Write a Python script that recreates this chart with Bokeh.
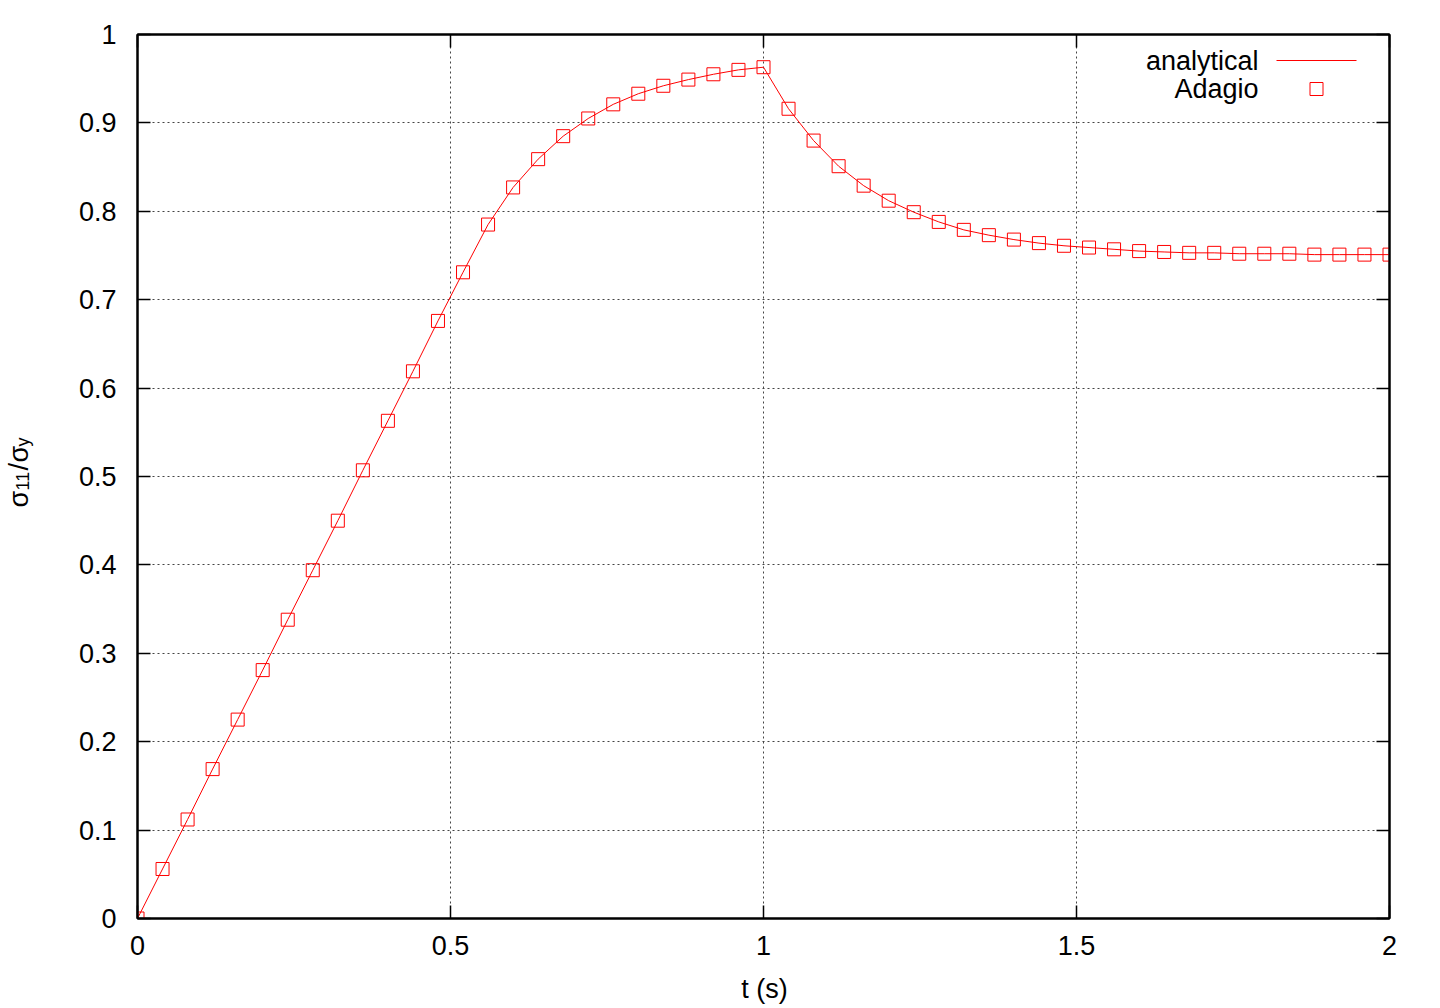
import numpy as np
from bokeh.plotting import figure
from bokeh.layouts import row, column
from bokeh.models import FixedTicker, LinearAxis, Range1d, Label, Arrow, BoxAnnotation
from bokeh.embed import file_html
from bokeh.resources import INLINE

# ---------------- data ----------------
t_adagio = [0.00, 0.04, 0.08, 0.12, 0.16, 0.20, 0.24, 0.28, 0.32, 0.36,
            0.40, 0.44, 0.48, 0.52, 0.56, 0.60, 0.64, 0.68, 0.72, 0.76,
            0.80, 0.84, 0.88, 0.92, 0.96, 1.00, 1.04, 1.08, 1.12, 1.16,
            1.20, 1.24, 1.28, 1.32, 1.36, 1.40, 1.44, 1.48, 1.52, 1.56,
            1.60, 1.64, 1.68, 1.72, 1.76, 1.80, 1.84, 1.88, 1.92, 1.96, 2.00]
s_adagio = [0.000, 0.056, 0.112, 0.169, 0.225, 0.281, 0.338, 0.394, 0.450, 0.507,
            0.563, 0.619, 0.676, 0.731, 0.785, 0.827, 0.859, 0.885, 0.905, 0.921,
            0.933, 0.942, 0.949, 0.955, 0.960, 0.963, 0.916, 0.880, 0.851, 0.829,
            0.812, 0.799, 0.788, 0.779, 0.773, 0.768, 0.764, 0.761, 0.759, 0.757,
            0.755, 0.754, 0.753, 0.753, 0.752, 0.752, 0.752, 0.751, 0.751, 0.751, 0.751]

t_analytical = [0.00, 0.04, 0.08, 0.12, 0.16, 0.20, 0.24, 0.28, 0.32, 0.36,
                0.40, 0.44, 0.48, 0.52, 0.56, 0.60, 0.64, 0.68, 0.72, 0.76,
                0.80, 0.84, 0.88, 0.92, 0.96, 1.00, 1.04, 1.08, 1.12, 1.16,
                1.20, 1.24, 1.28, 1.32, 1.36, 1.40, 1.44, 1.48, 1.52, 1.56,
                1.60, 1.64, 1.68, 1.72, 1.76, 1.80, 1.84, 1.88, 1.92, 1.96, 2.00]
s_analytical = [0.000, 0.056, 0.112, 0.169, 0.225, 0.281, 0.338, 0.394, 0.450, 0.507,
                0.563, 0.619, 0.676, 0.731, 0.785, 0.827, 0.859, 0.885, 0.905, 0.921,
                0.933, 0.942, 0.949, 0.955, 0.960, 0.963, 0.916, 0.880, 0.851, 0.829,
                0.812, 0.799, 0.788, 0.779, 0.773, 0.768, 0.764, 0.761, 0.759, 0.757,
                0.755, 0.754, 0.753, 0.753, 0.752, 0.752, 0.752, 0.751, 0.751, 0.751, 0.751]

x_ticks = [0, 0.5, 1, 1.5, 2]
x_tick_labels = ["0", "0.5", "1", "1.5", "2"]
y_ticks = [0, 0.1, 0.2, 0.3, 0.4, 0.5, 0.6, 0.7, 0.8, 0.9, 1]
y_tick_labels = ["0", "0.1", "0.2", "0.3", "0.4", "0.5", "0.6", "0.7", "0.8", "0.9", "1"]

series_names = ["analytical", "Adagio"]
x_label = "t (s)"

# ---------------- layout / style ----------------
FONT = "Liberation Sans"
FS = "27px"
SUB_FS = "18px"
RED = "#ff0000"
W, H = 1440, 1006          # whole page area used
WL = 60                    # strip holding the y-axis title
HT = 970                   # height of the main plot
HB = H - HT                # strip holding the x-axis title
X0, X1, Y0, Y1 = 0.0, 2.0, 0.0, 1.0
PL, PR, PT, PB = 137, 1389, 34, 918   # frame on the page (pixels)


def pos(px, py):
    """page pixel -> data coordinate of the main plot"""
    return (X0 + (px - PL) / (PR - PL) * (X1 - X0),
            Y0 + (PB - py) / (PB - PT) * (Y1 - Y0))


def blank(width, height):
    f = figure(width=width, height=height, output_backend="svg", toolbar_location=None,
               x_range=Range1d(0, width), y_range=Range1d(0, height),
               x_axis_type=None, y_axis_type=None, min_border=0,
               min_border_left=0, min_border_right=0, min_border_top=0, min_border_bottom=0)
    f.outline_line_color = None
    f.grid.visible = False
    return f


p = figure(width=W - WL, height=HT, output_backend="svg", toolbar_location=None,
           x_range=Range1d(X0, X1), y_range=Range1d(Y0, Y1),
           min_border_left=PL - WL, min_border_right=W - PR,
           min_border_top=PT, min_border_bottom=HT - PB,
           background_fill_color="white", border_fill_color="white")

p.outline_line_color = "black"
p.outline_line_width = 2

for ax in (p.xaxis[0], p.yaxis[0]):
    ax.axis_line_color = "black"
    ax.axis_line_width = 2
    ax.major_tick_in = 13
    ax.major_tick_out = 0
    ax.major_tick_line_width = 1.5
    ax.minor_tick_line_color = None
    ax.major_label_text_font = FONT
    ax.major_label_text_font_size = FS
    ax.major_label_text_color = "black"

p.xaxis[0].ticker = FixedTicker(ticks=x_ticks)
p.xaxis[0].major_label_overrides = {v: s for v, s in zip(x_ticks, x_tick_labels)}
p.xaxis[0].major_label_standoff = 17
p.yaxis[0].ticker = FixedTicker(ticks=y_ticks)
p.yaxis[0].major_label_overrides = {v: s for v, s in zip(y_ticks, y_tick_labels)}
p.yaxis[0].major_label_standoff = 21

# mirrored ticks on top and right (no labels)
for loc, ticks in (("above", x_ticks), ("right", y_ticks)):
    a = LinearAxis(ticker=FixedTicker(ticks=ticks), major_label_text_color=None,
                   major_label_standoff=0, major_tick_in=13, major_tick_out=0,
                   major_tick_line_width=1.5, minor_tick_line_color=None,
                   axis_line_width=2)
    p.add_layout(a, loc)

p.xgrid.ticker = FixedTicker(ticks=x_ticks)
p.ygrid.ticker = FixedTicker(ticks=y_ticks)
p.grid.grid_line_color = "#444444"
p.grid.grid_line_width = 1
p.grid.grid_line_dash = "2 3"

# ---------------- data marks ----------------
p.line(t_analytical, s_analytical, line_color=RED, line_width=1)
p.scatter(t_adagio, s_adagio, marker="square", size=13, fill_color=None,
          line_color=RED, line_width=1)

# ---------------- key (top right, text left of sample) ----------------
for name, by in zip(series_names, (60, 88)):
    x, y = pos(1258, by)
    p.add_layout(Label(x=x, y=y, text=name, text_font=FONT, text_font_size=FS,
                       text_align="right", text_baseline="alphabetic", text_color="black"))

xa, ya = pos(1276, 60)
xb, _ = pos(1356, 60)
p.add_layout(Arrow(x_start=xa, y_start=ya, x_end=xb, y_end=ya, start=None, end=None,
                   line_color=RED, line_width=1))
bl, bt = pos(1309.5, 82)
br, bb = pos(1322.5, 95)
p.add_layout(BoxAnnotation(left=bl, right=br, top=bt, bottom=bb, fill_color=None,
                           fill_alpha=0, line_color=RED, line_width=1, line_alpha=1))

# ---------------- y-axis title: sigma_11 / sigma_y (rotated), own strip ----------------
ylab = blank(WL, H)
ypieces = [("σ", FS, 18, 507), ("11", SUB_FS, 22, 490), ("/", FS, 18, 470),
           ("σ", FS, 18, 462), ("y", SUB_FS, 22, 446)]
for txt, fs, bx, by in ypieces:
    ylab.add_layout(Label(x=bx, y=H - by, text=txt, text_font=FONT, text_font_size=fs,
                          angle=np.pi / 2, text_align="left", text_baseline="alphabetic",
                          text_color="black"))

# ---------------- x-axis title, own strip ----------------
xlab = blank(W - WL, HB)
xlab.add_layout(Label(x=751 - WL, y=H - 988, text=x_label, text_font=FONT,
                      text_font_size=FS, text_align="center", text_baseline="middle",
                      text_color="black"))

layout = row(ylab, column(p, xlab, spacing=0), spacing=0)
open("out.html", "w").write(file_html(layout, INLINE))
